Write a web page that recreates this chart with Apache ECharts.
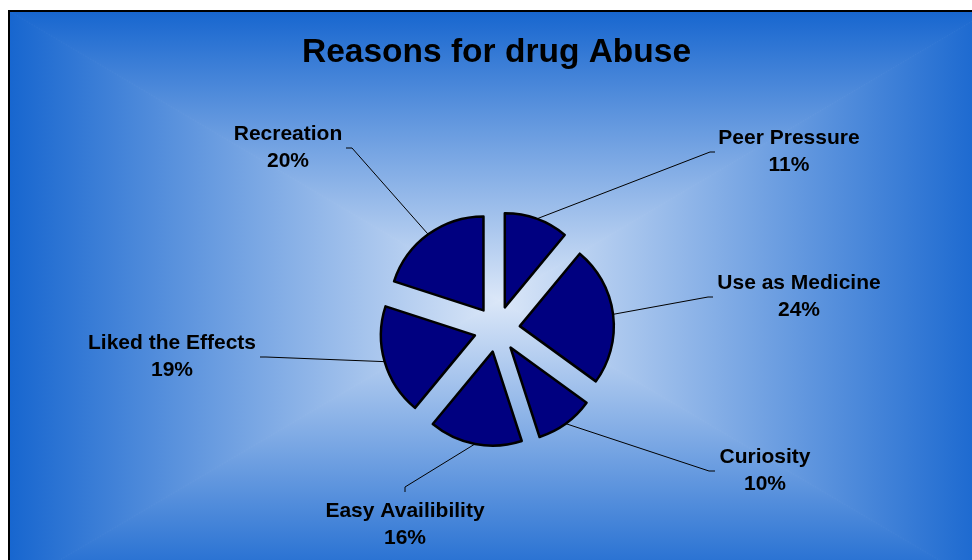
<!DOCTYPE html>
<html>
<head>
<meta charset="utf-8">
<style>
  html, body { margin: 0; padding: 0; background: #ffffff; }
  #chart { width: 972px; height: 560px; }
</style>
<script src="https://cdn.jsdelivr.net/npm/echarts@6/dist/echarts.min.js"></script>
</head>
<body>
<div id="chart"></div>
<script>
// Survey answers: why people started abusing drugs (share of respondents, %)
const reasons = ['Peer Pressure', 'Use as Medicine', 'Curiosity', 'Easy Availibility', 'Liked the Effects', 'Recreation'];
const shares = [11, 24, 10, 16, 19, 20];
const chartTitle = 'Reasons for drug Abuse';

// Where each callout block sits and how its leader line ends (elbow, tip)
const calloutLayout = [
  { x: 789, y: 152, elbow: [710, 152], tip: [715, 152] },
  { x: 799, y: 297, elbow: [708, 297], tip: [713, 297] },
  { x: 765, y: 471, elbow: [709, 471], tip: [715, 471] },
  { x: 405, y: 525, elbow: [405, 487], tip: [405, 492] },
  { x: 172, y: 357, elbow: [266, 357], tip: [260, 357] },
  { x: 288, y: 148, elbow: [352, 148], tip: [346, 148] }
];

const W = 972, H = 560;
const pieCenter = [497, 329];
const pieRadius = 94;
const explode = 23;

const box = { left: 9, top: 11, right: 990, bottom: 590 };
const mid = { x: (box.left + box.right) / 2, y: (box.top + box.bottom) / 2 };
const edgeColor = '#1766cf';
const centerColor = '#dbe7f8';

function grad(x, y, x2, y2) {
  return new echarts.graphic.LinearGradient(x, y, x2, y2, [
    { offset: 0, color: edgeColor },
    { offset: 1, color: centerColor }
  ], true);
}

function wedge(points, g) {
  return { type: 'polygon', shape: { points: points }, style: { fill: g, stroke: g, lineWidth: 1 } };
}

// "From centre" rectangular shading built from four triangles
const backdrop = [
  wedge([[box.left, box.top], [box.right, box.top], [mid.x, mid.y]], grad(0, box.top, 0, mid.y)),
  wedge([[box.left, box.bottom], [box.right, box.bottom], [mid.x, mid.y]], grad(0, box.bottom, 0, mid.y)),
  wedge([[box.left, box.top], [box.left, box.bottom], [mid.x, mid.y]], grad(box.left, 0, mid.x, 0)),
  wedge([[box.right, box.top], [box.right, box.bottom], [mid.x, mid.y]], grad(box.right, 0, mid.x, 0)),
  { type: 'polyline', shape: { points: [[box.left, box.bottom], [box.left, box.top], [box.right, box.top]] },
    style: { stroke: '#000', lineWidth: 2, fill: null } }
];

const chart = echarts.init(document.getElementById('chart'), null, { renderer: 'canvas', width: W, height: H });

const sliceStyle = { color: '#000080', borderColor: '#000000', borderWidth: 2.5 };
const labelStyle = {
  show: true,
  formatter: '{b}\n{d}%',
  fontFamily: 'Liberation Sans, Arial, sans-serif',
  fontWeight: 'bold',
  fontSize: 21,
  lineHeight: 27,
  color: '#000000'
};
const seriesData = reasons.map((name, i) => ({ name: name, value: shares[i] }));

chart.setOption({
  animation: false,
  backgroundColor: '#ffffff',
  graphic: { elements: backdrop.map(e => Object.assign({ silent: true, z: -10 }, e)) },
  title: {
    text: chartTitle,
    left: 297,
    top: 31,
    textStyle: { fontFamily: 'Liberation Sans, Arial, sans-serif', fontWeight: 'bold', fontSize: 33.5, color: '#000' }
  },
  series: [
    {
      // callouts: an invisible twin of the pie that carries the labels and leader lines
      type: 'pie',
      z: 1,
      silent: true,
      center: pieCenter,
      radius: pieRadius,
      startAngle: 90,
      clockwise: true,
      avoidLabelOverlap: false,
      itemStyle: { color: 'rgba(0,0,0,0)', borderWidth: 0 },
      label: labelStyle,
      labelLine: { show: true, lineStyle: { color: '#000', width: 1 } },
      emphasis: { disabled: true },
      labelLayout: function (p) {
        const c = calloutLayout[p.dataIndex];
        const base = p.labelLinePoints[0];
        const dx = base[0] - pieCenter[0], dy = base[1] - pieCenter[1];
        const len = Math.sqrt(dx * dx + dy * dy) || 1;
        const start = [base[0] + explode * dx / len, base[1] + explode * dy / len];
        return {
          x: c.x, y: c.y, align: 'center', verticalAlign: 'middle',
          labelLinePoints: [start, c.elbow, c.tip]
        };
      },
      data: seriesData
    },
    {
      // exploded slices
      type: 'pie',
      z: 2,
      center: pieCenter,
      radius: pieRadius,
      startAngle: 90,
      clockwise: true,
      selectedMode: 'multiple',
      selectedOffset: explode,
      itemStyle: sliceStyle,
      label: { show: false },
      labelLine: { show: false },
      emphasis: { disabled: true },
      select: { itemStyle: sliceStyle },
      data: seriesData.map(d => Object.assign({ selected: true }, d))
    }
  ]
});
</script>
</body>
</html>
